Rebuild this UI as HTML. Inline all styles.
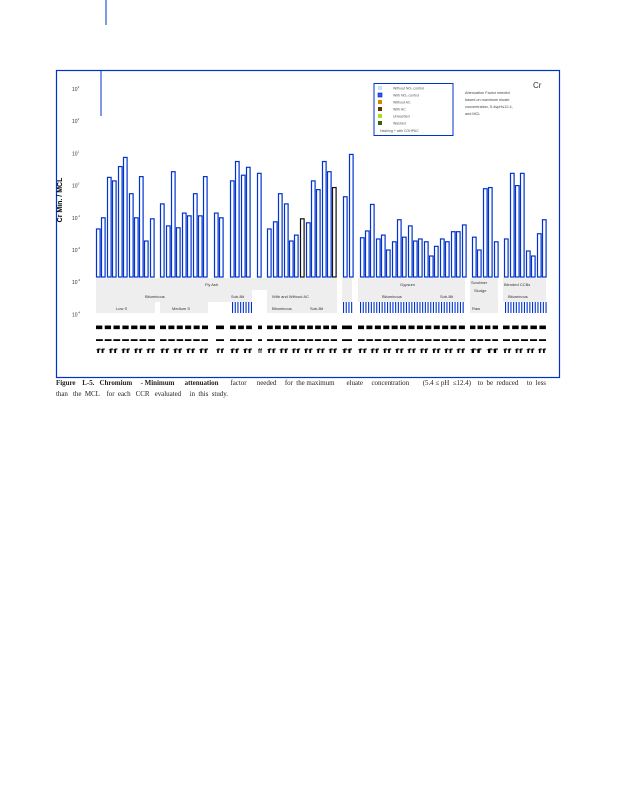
<!DOCTYPE html>
<html><head><meta charset="utf-8"><style>
body{margin:0;background:#fff;width:618px;height:800px;overflow:hidden;font-family:"Liberation Sans",sans-serif}
svg{position:absolute;left:0;top:0}
</style></head><body>
<svg width="618" height="800" id="chart">
<line x1="106" y1="0" x2="106" y2="25" stroke="#0033cc" stroke-width="1"/>
<rect x="56.5" y="70.5" width="503" height="307" fill="none" stroke="#0033cc" stroke-width="1.2"/>
<line x1="101" y1="70" x2="101" y2="116" stroke="#0033cc" stroke-width="1"/>
<text x="62" y="200" font-size="7" font-weight="bold" transform="rotate(-90 62 200)" text-anchor="middle">Cr Min. / MCL</text>
<g id="yaxis"></g>
<g id="bands">
<rect x="96" y="278" width="241" height="12" fill="#eeeeee"/>
<rect x="96" y="290" width="134" height="12" fill="#eeeeee"/>
<rect x="96" y="302" width="59" height="11" fill="#eeeeee"/>
<rect x="160" y="302" width="48" height="11" fill="#eeeeee"/>
<rect x="230" y="290" width="22" height="12" fill="#eeeeee"/>
<rect x="267" y="290" width="70" height="23" fill="#eeeeee"/>
<rect x="342" y="278" width="10" height="24" fill="#eeeeee"/>
<rect x="358" y="278" width="107" height="24" fill="#eeeeee"/>
<rect x="470" y="278" width="28" height="35" fill="#eeeeee"/>
<rect x="503" y="278" width="43" height="24" fill="#eeeeee"/>
<g font-size="4" fill="#333">
<text x="205" y="286">Fly   Ash</text><text x="145" y="298">Bituminous</text>
<text x="116" y="310">Low    S</text><text x="172" y="310">Medium     S</text>
<text x="231" y="298">Sub-Bit</text><text x="272" y="298">With    and    Without      AC</text>
<text x="272" y="310">Bituminous</text><text x="310" y="310">Sub-Bit</text>
<text x="400" y="286">Gypsum</text><text x="382" y="298">Bituminous</text><text x="440" y="298">Sub-Bit</text>
<text x="471" y="284">Scrubber</text><text x="474" y="292">Sludge</text><text x="472" y="310">Raw</text>
<text x="504" y="286">Blended     CCBs</text><text x="508" y="298">Bituminous</text>
</g>
</g>
<g id="ticks"></g>
<g id="bars"></g>
<g id="junk" font-size="6" font-weight="bold" fill="#000"></g>
<g>
<rect x="374" y="83.5" width="79" height="52" fill="#fff" stroke="#0033cc" stroke-width="1"/>
<rect x="378" y="86" width="4" height="4" fill="#bfe6ff"/><text x="393" y="89.5" font-size="3.5" fill="#555">Without       NO₂     control</text>
<rect x="378" y="93" width="4" height="4" fill="#3355ff" stroke="#0022aa" stroke-width="0.6"/><text x="393" y="96.5" font-size="3.5" fill="#555">With      NO₂    control</text>
<rect x="378" y="100" width="4" height="4" fill="#cc8800"/><text x="393" y="103.5" font-size="3.5" fill="#555">Without      AC</text>
<rect x="378" y="107" width="4" height="4" fill="#663300"/><text x="393" y="110.5" font-size="3.5" fill="#555">With     AC</text>
<rect x="378" y="114" width="4" height="4" fill="#aadd22"/><text x="393" y="117.5" font-size="3.5" fill="#555">Unwashed</text>
<rect x="378" y="121" width="4" height="4" fill="#336600"/><text x="393" y="124.5" font-size="3.5" fill="#555">Washed</text>
<text x="380" y="132" font-size="3.5" fill="#555">Hashing        +    with      COHPAC</text>
</g>
<g font-size="3.8" fill="#444">
<text x="465" y="94">Attenuation         Factor         needed</text>
<text x="465" y="101">based     on     maximum          eluate</text>
<text x="465" y="108">concentration,                 5.4≤pH≤12.4,</text>
<text x="465" y="115">and      MCL</text>
</g>
<text x="533" y="88" font-size="8" fill="#333">Cr</text>
<text x="56" y="385" font-family="Liberation Serif, serif" font-size="7" fill="#222" textLength="490" lengthAdjust="spacing" xml:space="preserve"><tspan font-weight="bold">Figure    L-5.   Chromium     - Minimum      attenuation</tspan>       factor      needed     for  the maximum       eluate     concentration        (5.4 ≤ pH  ≤12.4)    to  be  reduced     to  less</text>
<text x="56" y="396" font-family="Liberation Serif, serif" font-size="7" fill="#222" textLength="172" lengthAdjust="spacing" xml:space="preserve">than   the  MCL    for  each   CCR   evaluated     in  this  study.</text>
</svg>
<script>
const NS="http://www.w3.org/2000/svg";
const tickExps=[3,2,1,0,-1,-2,-3,-4];
const positions=[96,101,107,112,118,123,129,134,139,144,150,160,166,171,176,182,187,193,198,203,214,219,230,235,241,246,257,267,273,278,284,289,294,300,306,311,316,322,327,332,343,349,360,365,370,376,381,386,392,397,402,408,413,418,424,429,434,440,445,451,456,462,472,477,483,488,494,504,510,515,520,526,531,537,542];
const values=[0.045,0.1,1.8,1.4,3.9,7.5,0.56,0.1,1.9,0.019,0.093,0.27,0.056,2.7,0.049,0.14,0.115,0.56,0.115,1.9,0.14,0.1,1.4,5.6,2.1,3.7,2.4,0.045,0.075,0.56,0.27,0.019,0.029,0.093,0.07,1.4,0.75,5.6,2.7,0.87,0.45,9.3,0.024,0.039,0.26,0.022,0.029,0.01,0.018,0.087,0.025,0.056,0.019,0.022,0.018,0.0065,0.013,0.022,0.018,0.037,0.037,0.06,0.025,0.01,0.8,0.87,0.018,0.022,2.4,1,2.4,0.0093,0.0065,0.032,0.087];
const darkBars=[33,39];
const yTop=89, decade=32.2;
function yOf(v){return yTop+(3-Math.log10(v))*decade;}
const base=277;
const ya=document.getElementById('yaxis');
tickExps.forEach(e=>{
 const t=document.createElementNS(NS,'text');
 
 
 t.setAttribute('x',72);t.setAttribute('y',yTop+(3-e)*decade+2);
 t.setAttribute('font-size','5');t.setAttribute('fill','#333');
 t.textContent='10';
 const s=document.createElementNS(NS,'tspan');s.setAttribute('dy','-3');s.setAttribute('font-size','3');s.textContent=String(e);
 t.appendChild(s);ya.appendChild(t);
});
const bg=document.getElementById('bars');
values.forEach((v,i)=>{
 const r=document.createElementNS(NS,'rect');
 
 
 const y=yOf(v);
 r.setAttribute('x',positions[i]+0.5);r.setAttribute('y',y);
 r.setAttribute('width',3.6);r.setAttribute('height',Math.max(0,base-y));
 r.setAttribute('fill','#fff');
 r.setAttribute('stroke',darkBars.includes(i)?'#111':'#0033cc');r.setAttribute('stroke-width','1.2');
 bg.appendChild(r);
});
const tg=document.getElementById('ticks');
const tickRanges=[[232,252],[343,352],[360,465],[505,546]];
tickRanges.forEach(([a,b])=>{for(let x=a;x<=b;x+=2.7){
 const l=document.createElementNS(NS,'rect');
 
 
 l.setAttribute('x',x);l.setAttribute('y',302);l.setAttribute('width',1.1);l.setAttribute('height',11);l.setAttribute('fill','#0033cc');tg.appendChild(l);}});
const jg=document.getElementById('junk');
const groups=[[96,155],[160,208],[216,224],[230,252],[258,262],[267,337],[342,352],[358,465],[470,498],[503,546]];
groups.forEach(([a,b])=>{
 [[331,'▀ '],[341,'▬ '],[353,'ff ']].forEach(([y,ch])=>{
  const t=document.createElementNS(NS,'text');
  
  
  t.setAttribute('x',a);t.setAttribute('y',y);t.setAttribute('textLength',b-a);t.setAttribute('lengthAdjust','spacingAndGlyphs');
  t.textContent=ch.repeat(Math.max(1,Math.round((b-a)/(ch.length*4)))).trim();
  jg.appendChild(t);});
});
</script>
</body></html>
